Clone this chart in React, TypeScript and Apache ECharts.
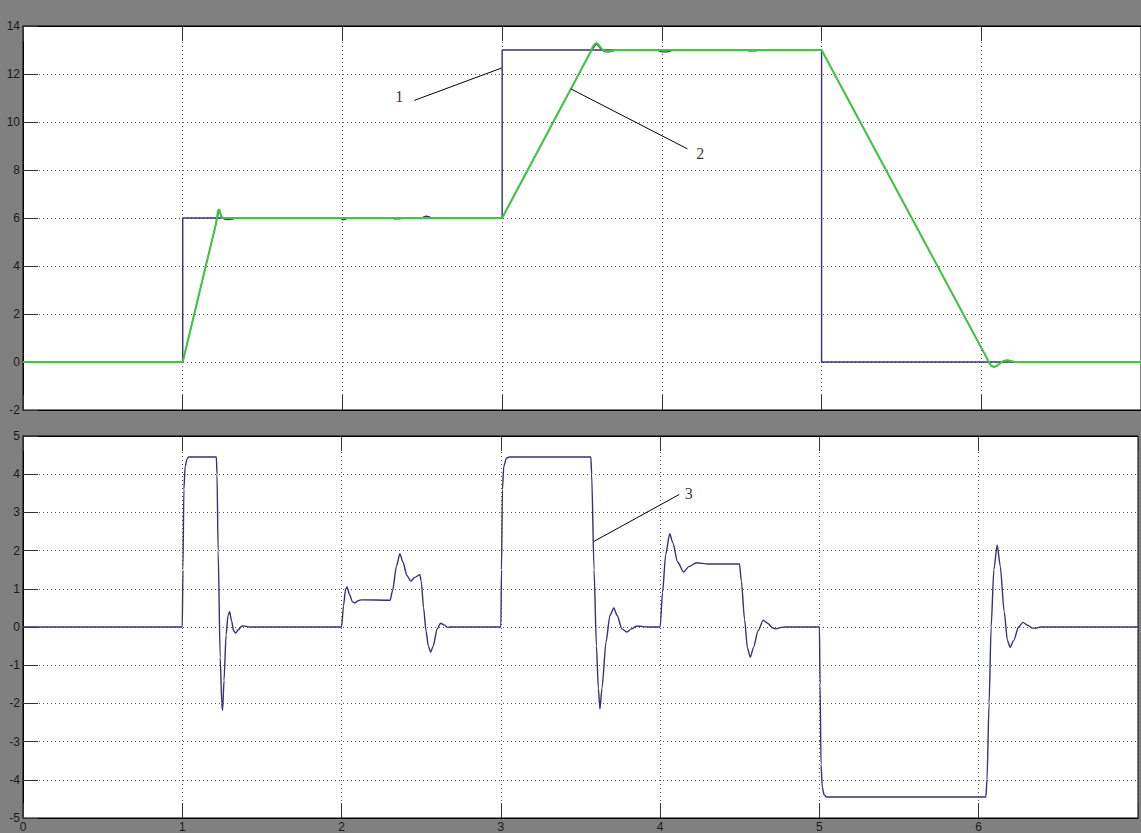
import React, { useEffect, useRef } from "react";
import * as echarts from "echarts";

// x ticks
const xTicks = [0, 1, 2, 3, 4, 5, 6, 7];

// Top plot: speed reference step (1), ramped reference/speed (2), measured speed
const stepRef: number[][] = [
  [0, 0], [1, 0], [1, 6], [3, 6], [3, 13], [5, 13], [5, 0], [7, 0],
];
const rampSpeed: number[][] = [
  [0, 0], [1, 0], [1.208, 5.75], [1.215, 6.05], [1.221, 6.28], [1.227, 6.37], [1.232, 6.3],
  [1.238, 6.12], [1.245, 6.02], [1.255, 6.0], [3, 6],
  [3.556, 12.95], [3.568, 13.14], [3.58, 13.25], [3.591, 13.29], [3.602, 13.24], [3.615, 13.12],
  [3.63, 13.0], [3.648, 12.95], [3.666, 12.95], [3.685, 12.98], [3.71, 13.0], [5, 13],
  [6.04, 0.1], [6.05, -0.05], [6.062, -0.15], [6.08, -0.2], [6.1, -0.14], [6.12, -0.04],
  [6.14, 0.04], [6.166, 0.07], [6.19, 0.03], [6.21, 0], [7, 0],
];
const measuredSpeed: number[][] = [
  [0, 0], [1, 0], [1.208, 5.75], [1.227, 6.33], [1.245, 6.02], [1.262, 5.95], [1.28, 5.93], [1.31, 5.95], [1.34, 6.0],
  [1.99, 6.0], [1.995, 5.95], [2.005, 5.92], [2.02, 5.95], [2.035, 6.0], [2.31, 6.0], [2.325, 5.96], [2.36, 5.96], [2.38, 6.0],
  [2.5, 6.0], [2.51, 6.05], [2.525, 6.08], [2.545, 6.05], [2.56, 6.0], [3, 6],
  [3.556, 12.95], [3.591, 13.26], [3.62, 13.03], [3.64, 12.93], [3.67, 12.92], [3.695, 12.96], [3.72, 13.0],
  [3.97, 13.0], [3.985, 12.95], [4.0, 12.92], [4.035, 12.92], [4.06, 12.97], [4.08, 13.0],
  [4.53, 13.0], [4.545, 12.96], [4.59, 12.96], [4.61, 13.0], [5, 13],
  [6.04, 0.1], [6.06, -0.15], [6.08, -0.22], [6.1, -0.15], [6.13, 0.02], [6.15, 0.07], [6.18, 0.06], [6.21, 0], [7, 0],
];

// Bottom plot: current / torque (3)
const current: number[][] = [
  [0, 0], [1, 0], [1.004, 1.5], [1.01, 3.6], [1.018, 4.2], [1.03, 4.4], [1.04, 4.45], [1.214, 4.45],
  [1.218, 4.0], [1.225, 2.0], [1.238, -0.8], [1.248, -2.0], [1.253, -2.18], [1.262, -1.4], [1.275, -0.2],
  [1.287, 0.3], [1.297, 0.4], [1.31, 0.15], [1.322, -0.1], [1.334, -0.16], [1.355, -0.06], [1.372, 0.02],
  [1.384, 0.03], [1.42, 0], [2.0, 0], [2.012, 0.55], [2.025, 0.98], [2.034, 1.05], [2.05, 0.85],
  [2.068, 0.66], [2.084, 0.63], [2.1, 0.68], [2.122, 0.71], [2.305, 0.7], [2.32, 0.95], [2.345, 1.6],
  [2.366, 1.92], [2.385, 1.7], [2.41, 1.35], [2.434, 1.2], [2.46, 1.3], [2.492, 1.37], [2.5, 1.2],
  [2.515, 0.5], [2.53, -0.1], [2.545, -0.5], [2.559, -0.66], [2.575, -0.5], [2.6, -0.05], [2.622, 0.1],
  [2.645, 0.05], [2.665, -0.01], [2.685, 0], [3.0, 0], [3.004, 1.5], [3.01, 3.6], [3.018, 4.2],
  [3.035, 4.42], [3.053, 4.45], [3.565, 4.45], [3.57, 4.0], [3.585, 1.5], [3.6, -0.5], [3.612, -1.6],
  [3.622, -2.15], [3.635, -1.6], [3.66, -0.4], [3.685, 0.3], [3.709, 0.5], [3.73, 0.3], [3.76, -0.05],
  [3.791, -0.13], [3.82, -0.05], [3.85, 0.02], [3.872, 0.02], [3.92, 0], [4.0, 0], [4.015, 0.9],
  [4.035, 1.9], [4.06, 2.44], [4.08, 2.2], [4.11, 1.7], [4.147, 1.44], [4.18, 1.58], [4.228, 1.68],
  [4.3, 1.65], [4.498, 1.65], [4.51, 1.2], [4.53, 0.2], [4.548, -0.55], [4.566, -0.79], [4.585, -0.55],
  [4.615, -0.1], [4.647, 0.18], [4.675, 0.1], [4.705, -0.02], [4.728, -0.05], [4.76, -0.01], [4.79, 0],
  [5.0, 0], [5.004, -1.5], [5.01, -3.6], [5.018, -4.2], [5.03, -4.4], [5.045, -4.45], [6.045, -4.45],
  [6.052, -4.0], [6.065, -2.0], [6.078, 0.0], [6.095, 1.5], [6.116, 2.15], [6.135, 1.6], [6.16, 0.4],
  [6.18, -0.35], [6.197, -0.53], [6.22, -0.35], [6.25, 0.0], [6.278, 0.12], [6.31, 0.04], [6.335, -0.03],
  [6.353, -0.03], [6.39, 0], [7, 0],
];

// Annotation leader lines and labels (data coordinates)
const leader1: number[][] = [[2.45, 10.9], [2.997, 12.25]];
const leader2: number[][] = [[3.43, 11.38], [4.16, 8.88]];
const leader3: number[][] = [[3.584, 2.24], [4.12, 3.47]];
const labelsTop = [
  { name: "1", value: [2.355, 11.05] },
  { name: "2", value: [4.24, 8.7] },
];
const labelsBottom = [{ name: "3", value: [4.18, 3.5] }];

const NAVY = "#34346f";
const GREEN = "#3fc83f";

export default function App() {
  const ref = useRef<HTMLDivElement>(null);

  useEffect(() => {
    if (!ref.current) return;
    const chart = echarts.init(ref.current, undefined, { renderer: "svg" });

    const labelStyle = {
      color: "#1a1a1a",
      fontFamily: "Liberation Sans, Arial, sans-serif",
      fontSize: 12,
    };
    const split = { show: true, lineStyle: { color: "#555", width: 1, type: [1, 3] as any } };
    const tick = { show: true, inside: true, length: 15, lineStyle: { color: "#333", width: 1 } };
    const axisLine = { show: true, onZero: false, lineStyle: { color: "#000", width: 1 } };

    const mkX = (grid: number, pos: "top" | "bottom", labels: boolean, splits: boolean) => ({
      type: "value",
      gridIndex: grid,
      position: pos,
      min: xTicks[0],
      max: xTicks[xTicks.length - 1],
      interval: 1,
      axisLine,
      axisTick: tick,
      axisLabel: labels
        ? { ...labelStyle, margin: 3, formatter: (v: number) => (v >= 7 ? "" : String(v)) }
        : { show: false },
      splitLine: splits ? split : { show: false },
    });

    const gridBase = {
      show: true,
      left: 23,
      width: 1120,
      backgroundColor: "#fff",
      borderColor: "#000",
      borderWidth: 1,
    };

    const textLabel = {
      show: true,
      position: "inside",
      formatter: "{b}",
      color: "#000",
      fontFamily: "Liberation Serif, Times New Roman, serif",
      fontSize: 16,
    };

    chart.setOption({
      animation: false,
      backgroundColor: "#808080",
      grid: [
        { ...gridBase, top: 26, height: 384 },
        { ...gridBase, top: 436, height: 382 },
      ],
      xAxis: [
        mkX(0, "bottom", false, true),
        mkX(0, "top", false, false),
        mkX(1, "bottom", true, true),
        mkX(1, "top", false, false),
      ],
      yAxis: [
        {
          type: "value",
          gridIndex: 0,
          min: -2,
          max: 14,
          interval: 2,
          axisLine,
          axisTick: tick,
          axisLabel: { ...labelStyle, margin: 3 },
          splitLine: split,
        },
        {
          type: "value",
          gridIndex: 1,
          min: -5,
          max: 5,
          interval: 1,
          axisLine,
          axisTick: tick,
          axisLabel: { ...labelStyle, margin: 3 },
          splitLine: split,
        },
      ],
      series: [
        {
          name: "1",
          type: "line",
          xAxisIndex: 0,
          yAxisIndex: 0,
          data: stepRef,
          showSymbol: false,
          lineStyle: { color: NAVY, width: 1.4 },
          z: 3,
        },
        {
          name: "speed",
          type: "line",
          xAxisIndex: 0,
          yAxisIndex: 0,
          data: measuredSpeed,
          showSymbol: false,
          lineStyle: { color: NAVY, width: 1.2 },
          z: 3,
        },
        {
          name: "2",
          type: "line",
          xAxisIndex: 0,
          yAxisIndex: 0,
          data: rampSpeed,
          showSymbol: false,
          lineStyle: { color: GREEN, width: 2 },
          z: 4,
        },
        {
          name: "3",
          type: "line",
          xAxisIndex: 2,
          yAxisIndex: 1,
          data: current,
          showSymbol: false,
          smooth: 0.25,
          smoothMonotone: "x",
          lineStyle: { color: NAVY, width: 1.4 },
          z: 3,
        },
        ...[leader1, leader2].map((d) => ({
          type: "line",
          xAxisIndex: 0,
          yAxisIndex: 0,
          data: d,
          showSymbol: false,
          lineStyle: { color: "#000", width: 1 },
          z: 5,
        })),
        {
          type: "line",
          xAxisIndex: 2,
          yAxisIndex: 1,
          data: leader3,
          showSymbol: false,
          lineStyle: { color: "#000", width: 1 },
          z: 5,
        },
        {
          type: "scatter",
          xAxisIndex: 0,
          yAxisIndex: 0,
          data: labelsTop,
          symbolSize: 1,
          itemStyle: { color: "rgba(0,0,0,0)" },
          label: textLabel,
          z: 6,
        },
        {
          type: "scatter",
          xAxisIndex: 2,
          yAxisIndex: 1,
          data: labelsBottom,
          symbolSize: 1,
          itemStyle: { color: "rgba(0,0,0,0)" },
          label: textLabel,
          z: 6,
        },
      ],
    });

    return () => chart.dispose();
  }, []);

  return (
    <div
      ref={ref}
      style={{ position: "fixed", left: 0, top: 0, width: 1141, height: 833, background: "#808080" }}
    />
  );
}
